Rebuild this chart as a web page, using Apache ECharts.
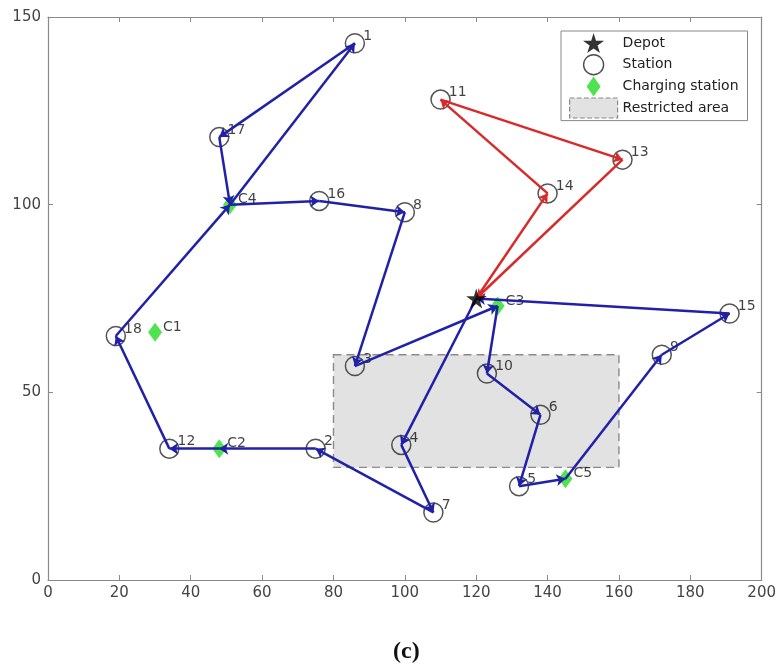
<!DOCTYPE html>
<html>
<head>
<meta charset="utf-8">
<script src="https://cdn.jsdelivr.net/npm/echarts@6/dist/echarts.min.js"></script>
<style>html,body{margin:0;padding:0;background:#fff;}#c{width:779px;height:670px;}</style>
</head>
<body>
<div id="c"></div>
<script>
// ---- data ----
var depot = {name: 'D', x: 120, y: 75};
var stationNames = ['1','2','3','4','5','6','7','8','9','10','11','12','13','14','15','16','17','18'];
var stationX = [86, 75, 86, 99, 132, 138, 108, 100, 172, 123, 110, 34, 161, 140, 191, 76, 48, 19];
var stationY = [143, 35, 57, 36, 25, 44, 18, 98, 60, 55, 128, 35, 112, 103, 71, 101, 118, 65];
var chargerNames = ['C1','C2','C3','C4','C5'];
var chargerX = [30, 48, 126, 51, 145];
var chargerY = [66, 35, 73, 100, 27];
var restrictedX = [80, 160];
var restrictedY = [30, 60];
var blueRoute = ['D','4','7','2','C2','12','18','C4','1','17','C4','16','8','3','C3','10','6','5','C5','9','15','D'];
var redRoute = ['D','14','11','13','D'];
var xTicks = [0, 200, 20];
var yTicks = [0, 150, 50];

// ---- build ----
var pos = {};
pos[depot.name] = [depot.x, depot.y];
stationNames.forEach(function(n, i){ pos[n] = [stationX[i], stationY[i]]; });
chargerNames.forEach(function(n, i){ pos[n] = [chargerX[i], chargerY[i]]; });
function segs(route){
  var out = [];
  for (var i = 0; i < route.length - 1; i++) out.push({coords: [pos[route[i]], pos[route[i+1]]]});
  return out;
}
var FONT = 'DejaVu Sans';
var starPath = 'path://M50,0 L61,35 L98,35 L68,57 L79,91 L50,70 L21,91 L32,57 L2,35 L39,35 Z';
var diamondPath = 'path://M7,0 L14,10 L7,20 L0,10 Z';

var chart = echarts.init(document.getElementById('c'), null, {renderer: 'canvas'});
var axisCommon = {
  type: 'value',
  axisLine: {show: true, onZero: false, lineStyle: {color: '#8a8a8a', width: 1.2}},
  axisTick: {show: true, inside: true, length: 5, lineStyle: {color: '#8a8a8a'}},
  splitLine: {show: false},
  axisLabel: {color: '#444', fontFamily: FONT, fontSize: 15}
};
var option = {
  backgroundColor: '#fff',
  animation: false,
  title: {
    text: '(c)', left: 388, top: 635,
    textStyle: {fontFamily: 'Liberation Serif', fontWeight: 'bold', fontSize: 24, color: '#111'}
  },
  grid: {left: 48, right: 17, top: 17, bottom: 90},
  xAxis: [
    Object.assign({}, axisCommon, {min: xTicks[0], max: xTicks[1], interval: xTicks[2], position: 'bottom',
      axisLabel: Object.assign({}, axisCommon.axisLabel, {margin: 6})}),
    Object.assign({}, axisCommon, {min: xTicks[0], max: xTicks[1], interval: xTicks[2], position: 'top',
      axisLabel: {show: false}})
  ],
  yAxis: [
    Object.assign({}, axisCommon, {min: yTicks[0], max: yTicks[1], interval: yTicks[2], position: 'left',
      axisLabel: Object.assign({}, axisCommon.axisLabel, {margin: 7})}),
    Object.assign({}, axisCommon, {min: yTicks[0], max: yTicks[1], interval: yTicks[2], position: 'right',
      axisLabel: {show: false}})
  ],
  legend: {
    orient: 'vertical', left: 561, top: 31,
    backgroundColor: '#fff', borderColor: '#888', borderWidth: 1,
    padding: [2, 9, 2, 8], itemGap: 1, itemWidth: 48, itemHeight: 20,
    symbolKeepAspect: true,
    textStyle: {fontFamily: FONT, fontSize: 14, color: '#222'},
    data: [
      {name: 'Depot', icon: starPath, itemStyle: {color: '#000'}},
      {name: 'Station', icon: 'circle', itemStyle: {color: '#fff', borderColor: '#222', borderWidth: 1.4}},
      {name: 'Charging station', icon: diamondPath, itemStyle: {color: '#22dd22'}},
      {name: 'Restricted area', icon: 'rect', itemStyle: {color: '#e2e2e2', borderColor: '#888', borderWidth: 1.2, borderType: 'dashed'}}
    ]
  },
  series: [
    {
      name: 'Restricted area', type: 'custom', z: 1, silent: true,
      data: [[restrictedX[0], restrictedY[0], restrictedX[1], restrictedY[1]]],
      itemStyle: {color: '#e2e2e2'},
      renderItem: function(params, api){
        var p1 = api.coord([api.value(0), api.value(3)]);
        var p2 = api.coord([api.value(2), api.value(1)]);
        return {
          type: 'rect',
          shape: {x: p1[0], y: p1[1], width: p2[0] - p1[0], height: p2[1] - p1[1]},
          style: {fill: '#e2e2e2', stroke: '#8a8a8a', lineWidth: 1.4, lineDash: [8, 5]}
        };
      },
      encode: {x: [0, 2], y: [1, 3]}
    },
    {
      name: 'Station', type: 'scatter', z: 3, symbol: 'circle', symbolSize: 19,
      itemStyle: {color: 'rgba(255,255,255,0)', borderColor: '#2a2a2a', borderWidth: 1.5},
      label: {show: true, position: 'right', distance: 0, offset: [-2, -7], color: '#111', fontFamily: FONT, fontSize: 14,
        formatter: function(p){ return p.data[2]; }},
      data: stationNames.map(function(n, i){ return [stationX[i], stationY[i], n]; })
    },
    {
      name: 'Charging station', type: 'scatter', z: 2, symbol: 'diamond', symbolSize: [14, 19],
      itemStyle: {color: '#22dd22'},
      label: {show: true, position: 'right', distance: 1, offset: [0, -5], color: '#111', fontFamily: FONT, fontSize: 14,
        formatter: function(p){ return p.data[2]; }},
      data: chargerNames.map(function(n, i){ return [chargerX[i], chargerY[i], n]; })
    },
    {
      name: 'Blue route', type: 'lines', coordinateSystem: 'cartesian2d', z: 4,
      symbol: ['none', 'arrow'], symbolSize: 9,
      lineStyle: {color: '#2121a8', width: 2.5, opacity: 1},
      data: segs(blueRoute)
    },
    {
      name: 'Red route', type: 'lines', coordinateSystem: 'cartesian2d', z: 4,
      symbol: ['none', 'arrow'], symbolSize: 9,
      lineStyle: {color: '#d82a2a', width: 2.5, opacity: 1},
      data: segs(redRoute)
    },
    {
      name: 'Depot', type: 'scatter', z: 5, symbol: starPath, symbolSize: 20,
      itemStyle: {color: '#000'},
      data: [[depot.x, depot.y]]
    }
  ]
};
chart.setOption(option);
</script>
</body>
</html>
